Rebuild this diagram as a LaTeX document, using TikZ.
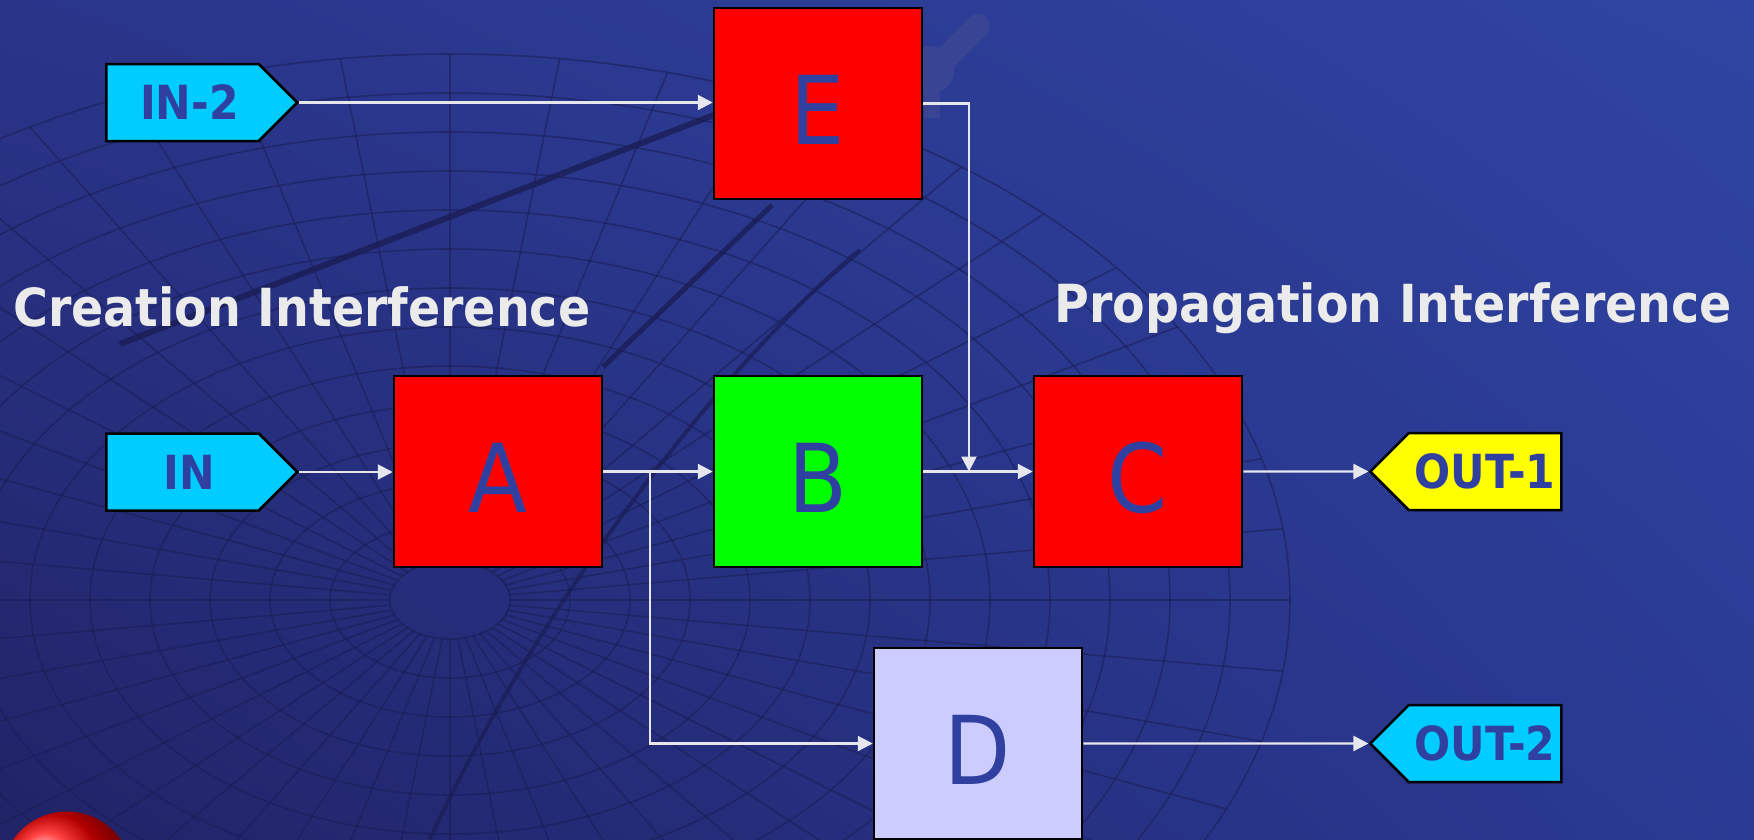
\documentclass[tikz,border=0pt]{standalone}
\usepackage{fontspec}
\setmainfont{DejaVu Sans}[FakeStretch=0.905]
\usepackage{tikz}
\usetikzlibrary{arrows.meta,shapes.symbols,shadings}
\definecolor{BgUL}{HTML}{2A358A}
\definecolor{BgUR}{HTML}{2F44A2}
\definecolor{BgLL}{HTML}{212366}
\definecolor{BgLR}{HTML}{2A3A94}
\definecolor{Grid}{HTML}{1A1D55}
\definecolor{Tube}{HTML}{3A4494}
\definecolor{Letter}{HTML}{3040A0}
\definecolor{Snow}{HTML}{EBEBEB}
\definecolor{Wire}{HTML}{E6E6EE}
\definecolor{Sky}{HTML}{00CCFF}
\definecolor{Lemon}{HTML}{FFFF00}
\definecolor{Lime}{HTML}{00FF00}
\definecolor{Lilac}{HTML}{CCCCFF}

\begin{document}
\begin{tikzpicture}[x=1pt,y=-1pt,
  block/.style={draw=black,line width=2.5pt,minimum width=208pt,minimum height=191pt,inner sep=0pt,
    text=Letter,font=\fontsize{95}{95}\selectfont,text height=81pt,text depth=0pt},
  tagout/.style={signal,signal to=west,draw=black,line width=2.5pt,minimum width=191pt,minimum height=77pt,
    inner sep=0pt,text=Letter,font=\fontsize{47}{47}\selectfont\bfseries},
  tagin/.style={tagout,signal to=east,execute at begin node=\hspace*{14pt}},
  flow/.style={-{Triangle[length=15pt,width=15pt]},line width=2.2pt,color=Wire},
  mesh/.style={color=Grid,line width=1.6pt,opacity=.55},
  heading/.style={anchor=base west,inner sep=0pt,text=Snow,font=\fontsize{52.5}{60}\selectfont\bfseries}
]
\useasboundingbox (0,0) rectangle (1754,839);
\clip (0,0) rectangle (1754,839);
\shade[upper left=BgUL,upper right=BgUR,lower left=BgLL,lower right=BgLR] (0,0) rectangle (1754,839);

% wire globe behind the slide
\begin{scope}[mesh]
  \foreach \r in {60,120,...,840}
    \draw (450,600) ellipse[x radius=\r,y radius=0.65*\r];
  \foreach \a in {0,7.5,...,352.5}
    \draw ({450+60*cos(\a)},{600+39*sin(\a)}) -- ({450+840*cos(\a)},{600+546*sin(\a)});
\end{scope}
\draw[Grid,line width=6pt,opacity=.8] (120,344) -- (714,115);
\draw[Grid,line width=5pt,opacity=.8] (603,367) -- (772,205);
\draw[Grid,line width=4pt,opacity=.7] (860,250) .. controls (760,330) and (560,560) .. (430,839);
% telescope
\draw[Tube,line width=24pt,line cap=round] (978,26) -- (944,60);
\fill[Tube] (930,70) circle[radius=24];
\draw[Tube,line width=16pt] (932,85) -- (932,118);
% red ball in the corner
\shade[ball color=red] (67,877) circle[radius=65.5];

\node[heading] (create) at (13,326) {Creation Interference};
\node[heading] (spread) at (1054,322) {Propagation Interference};

\node[tagin,fill=Sky] (in2) at (182.5,102.5) {IN-2};
\node[tagin,fill=Sky] (in) at (182.5,472) {IN};
\node[block,fill=red] (E) at (818,103.5) {E};
\node[block,fill=red] (A) at (498,471.5) {A};
\node[block,fill=Lime] (B) at (818,471.5) {B};
\node[block,fill=red] (C) at (1138,471.5) {C};
\node[block,fill=Lilac] (D) at (978,743.5) {D};
\node[tagout,fill=Lemon] (out1) at (1485,471.5) {OUT-1};
\node[tagout,fill=Sky] (out2) at (1485,743.5) {OUT-2};

\coordinate (split) at (650,471.5);
\coordinate (merge) at (969,471.5);
\draw[flow] (in2.east) -- (in2.east -| E.west);
\draw[flow] (in.east) -- (in.east -| A.west);
\draw[flow] (A) -- (B);
\draw[flow] (split) |- (D.west);
\draw[flow] (E.east) -| (merge);
\draw[flow] (B) -- (C);
\draw[flow] (C) -- (out1);
\draw[flow] (D) -- (out2);
\end{tikzpicture}
\end{document}
